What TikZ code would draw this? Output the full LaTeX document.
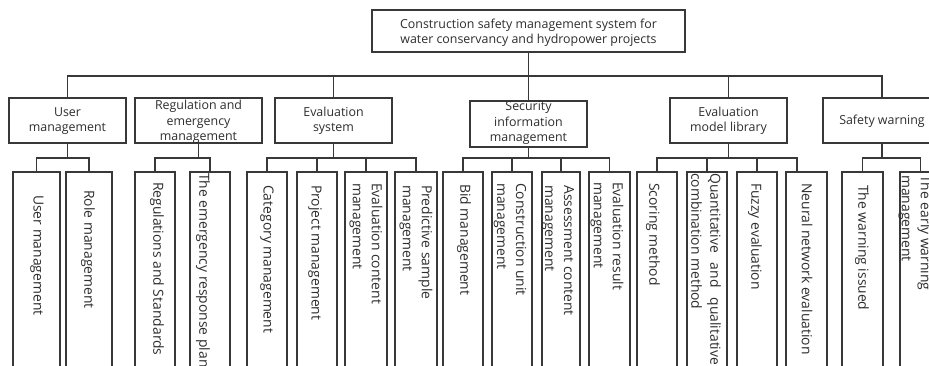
\documentclass[tikz,border=0pt]{standalone}
\usepackage{fontspec}
\setmainfont{Open Sans}
\begin{document}
\begin{tikzpicture}[x=1pt,y=-1pt,
  ln/.style={line width=1.3pt, draw=black!78},
  box/.style={ln, rectangle, inner sep=0pt, outer sep=0pt, fill=white},
  hd/.style={font=\fontsize{12.4}{15.5}\selectfont, align=center, text=black!82, inner sep=0pt},
  lf/.style={font=\fontsize{13.9}{19}\selectfont, align=left, text=black!82, inner sep=0pt, rotate=-90, anchor=west},
]
\useasboundingbox (0,0) rectangle (929,365);
\clip (0,0) rectangle (929,365);
\fill[white] (0,0) rectangle (929,365);

% root
\node[box, minimum width=313pt, minimum height=42pt] (root) at (528.5,31) {};
\node[hd] (roott) at (528.5,32.5) {Construction safety management system for\\water conservancy and hydropower projects};

% level 1
\node[box, minimum width=117pt, minimum height=45pt] (um) at (67.5,120.5) {};
\node[box, minimum width=127pt, minimum height=45pt] (rg) at (198.5,120.5) {};
\node[box, minimum width=117pt, minimum height=45pt] (es) at (333.5,120.5) {};
\node[box, minimum width=117pt, minimum height=46pt] (si) at (528.5,124) {};
\node[box, minimum width=117pt, minimum height=45pt] (ml) at (728.5,120.5) {};
\node[box, minimum width=118pt, minimum height=45pt] (sw) at (882,120.5) {};

\coordinate (b1) at (0,76);
\draw[ln] (root.south) -- (root.south |- b1);
\draw[ln] (um.north) -- (um.north |- b1) -- (sw.north |- b1) -- (sw.north);
\foreach \n in {es,si,ml} \draw[ln] (\n.north) -- (\n.north |- b1);

% leaves
\foreach \n/\cx/\w in {l1/36.5/47, l2/89/46, l3/155/40, l4/210/40,
  l5/267/40, l6/317/40, l7/366/42, l8/416/42,
  l9/463/40, l10/512/40, l11/561/38, l12/609.5/41,
  l13/657/40, l14/707/40, l15/757/40, l16/806.5/41,
  l17/862.5/41, l18/920.5/41}
  \node[box, minimum width=\w pt, minimum height=216pt] (\n) at (\cx,280) {};

\coordinate (b2) at (0,158);
\foreach \p in {um,rg,es,si,ml,sw} \draw[ln] (\p.south) -- (\p.south |- b2);
\draw[ln] (l1.north) -- (l1.north |- b2) -- (l2.north |- b2) -- (l2.north);
\draw[ln] (l3.north) -- (l3.north |- b2) -- (l4.north |- b2) -- (l4.north);
\draw[ln] (l5.north) -- (l5.north |- b2) -- (l8.north |- b2) -- (l8.north);
\draw[ln] (l6.north) -- (l6.north |- b2);
\draw[ln] (l7.north) -- (l7.north |- b2);
\draw[ln] (l9.north) -- (l9.north |- b2) -- (l12.north |- b2) -- (l12.north);
\draw[ln] (l10.north) -- (l10.north |- b2);
\draw[ln] (l11.north) -- (l11.north |- b2);
\coordinate (n16) at ([xshift=-9.5pt]l16.north);
\draw[ln] (l13.north) -- (l13.north |- b2) -- (n16 |- b2) -- (n16);
\draw[ln] (l14.north) -- (l14.north |- b2);
\draw[ln] (l15.north) -- (l15.north |- b2);
\draw[ln] (l17.north) -- (l17.north |- b2) -- (l18.north |- b2) -- (l18.north);

% level 1 texts
\node[hd] (umt) at (67.5,121) {User\\management};
\node[hd] (rgt) at (198.5,122) {Regulation and\\emergency\\management};
\node[hd] (est) at (333.5,121) {Evaluation\\system};
\node[hd] (sit) at (528.5,123) {Security\\information\\management};
\node[hd] (mlt) at (728.5,121) {Evaluation\\model library};
\node[hd] (swt) at (882,121) {Safety warning};

% leaf texts
\node[lf] (t1) at (37,195) {User management};
\node[lf] (t2) at (88,190) {Role management};
\node[lf] (t3) at (157,182) {Regulations and Standards};
\node[lf] (t4) at (203,173) {The emergency response plan};
\node[lf] (t5) at (267,185) {Category management};
\node[lf] (t6) at (315,185) {Project management};
\node[lf] (t7) at (366,183) {Evaluation content\\management};
\node[lf] (t8) at (416,185) {Predictive sample\\management};
\node[lf] (t9) at (464,184) {Bid management};
\node[lf] (t10) at (510,183) {Construction unit\\management};
\node[lf] (t11) at (558,185) {Assessment content\\management};
\node[lf] (t12) at (607,182) {Evaluation result\\management};
\node[lf] (t13) at (653,183) {Scoring method};
\node[lf] (t14) at (706,173) {Quantitative\hspace{0.45em} and\hspace{0.45em} qualitative\\combination method};
\node[lf] (t15) at (755,183) {Fuzzy evaluation};
\node[lf] (t16) at (807,183) {Neural network evaluation};
\node[lf] (t17) at (862,185) {The warning issued};
\node[lf] (t18) at (915,175) {The early warning\\management};
\end{tikzpicture}
\end{document}
